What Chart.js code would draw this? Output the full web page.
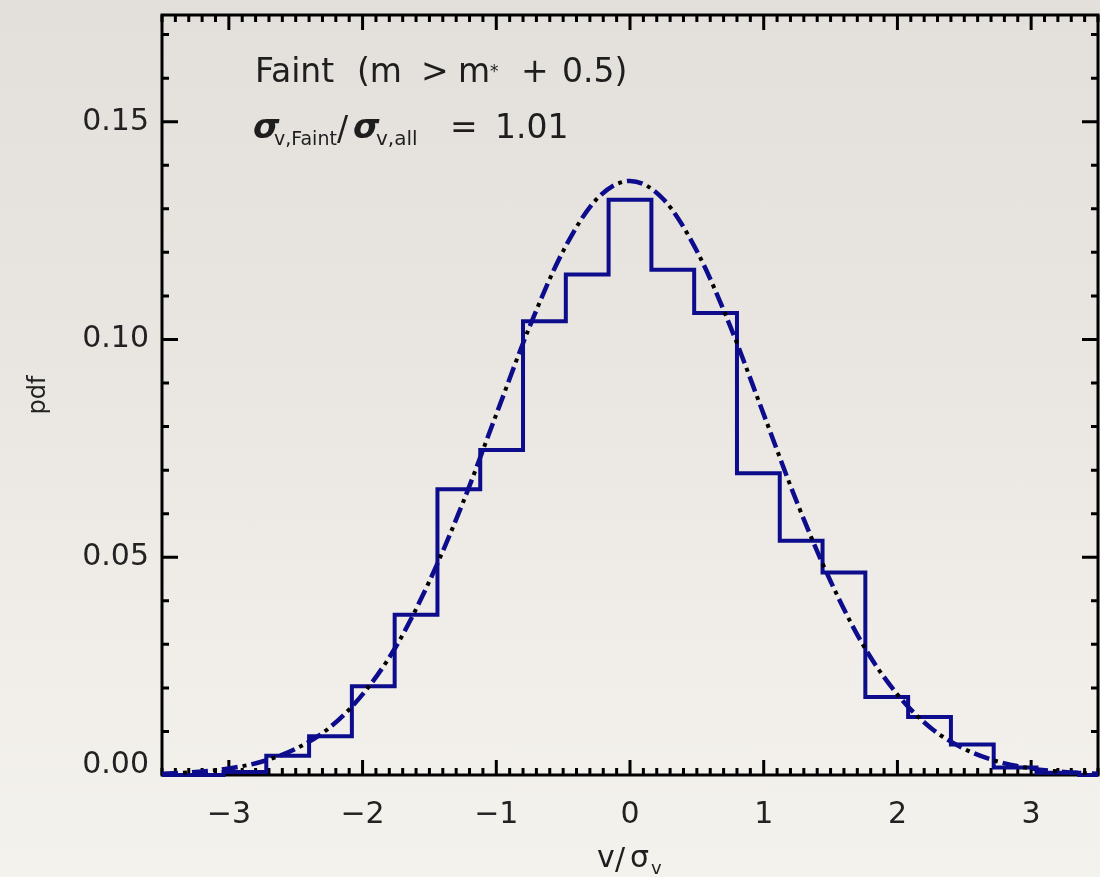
<!DOCTYPE html>
<html><head><meta charset="utf-8">
<script src="https://cdn.jsdelivr.net/npm/chart.js@4.4.1/dist/chart.umd.min.js"></script>
<style>
html,body{margin:0;padding:0;width:1100px;height:877px;overflow:hidden;
background:linear-gradient(180deg,#e3e0db 0%,#e9e6e1 40%,#f1eee9 75%,#f4f2ed 100%);}
canvas{position:absolute;left:0;top:0;}
</style></head><body>
<canvas id="c" width="1100" height="877"></canvas>
<script>
// ---- data ----
const binEdges = [-3.68,-3.36,-3.04,-2.72,-2.40,-2.08,-1.76,-1.44,-1.12,-0.80,-0.48,-0.16,
                  0.16,0.48,0.80,1.12,1.44,1.76,2.08,2.40,2.72,3.04,3.36,3.68];
const pdfValues = [0,0,0.0007,0.0044,0.0089,0.0204,0.0368,0.0656,0.0746,0.1042,0.1149,0.1321,
                   0.1160,0.1061,0.0693,0.0538,0.0465,0.0179,0.0133,0.0070,0.0017,0.0005,0];
const curveX = [-3.5,-3.25,-3,-2.75,-2.5,-2.25,-2,-1.75,-1.5,-1.25,-1,-0.75,-0.5,-0.25,0,
                0.25,0.5,0.75,1,1.25,1.5,1.75,2,2.25,2.5,2.75,3,3.25,3.5];
const curveY = [0.0003,0.0007,0.0015,0.0031,0.0060,0.0108,0.0185,0.0295,0.0445,0.0625,0.0828,0.1030,0.1203,0.1322,0.1364,
                0.1322,0.1203,0.1030,0.0828,0.0625,0.0445,0.0295,0.0185,0.0108,0.0060,0.0031,0.0015,0.0007,0.0003];
const xTickValues = [-3,-2,-1,0,1,2,3];
const yTickValues = [0,0.05,0.10,0.15];

const histPoints = binEdges.map((e,i)=>({x:e, y: pdfValues[Math.min(i,pdfValues.length-1)]}));
const curvePoints = curveX.map((v,i)=>({x:v,y:curveY[i]}));

const NAVY = '#0c0c8c';
const FONT = '"DejaVu Sans", sans-serif';

const framePlugin = {
  id:'frame',
  beforeDatasetsDraw(chart){
    const {ctx, chartArea:a, scales:{x,y}} = chart;
    ctx.save();
    ctx.strokeStyle='#000';
    ctx.lineWidth=3;
    ctx.strokeRect(a.left, a.top, a.right-a.left, a.bottom-a.top);
    ctx.beginPath();
    for (let i=Math.ceil(x.min*10-1e-9); i<=Math.floor(x.max*10+1e-9); i++){
      const px = x.getPixelForValue(i/10);
      const L = (i%10===0) ? 15 : 7;
      ctx.moveTo(px,a.bottom); ctx.lineTo(px,a.bottom-L);
      ctx.moveTo(px,a.top); ctx.lineTo(px,a.top+L);
    }
    for (let i=Math.ceil(y.min*100-1e-9); i<=Math.floor(y.max*100+1e-9); i++){
      const py = y.getPixelForValue(i/100);
      const L = (i%5===0) ? 16 : 7;
      ctx.moveTo(a.left,py); ctx.lineTo(a.left+L,py);
      ctx.moveTo(a.right,py); ctx.lineTo(a.right-L,py);
    }
    ctx.stroke();
    ctx.restore();
  },
  afterDraw(chart){
    const ctx = chart.ctx;
    ctx.save();
    ctx.fillStyle='#1e1e1e';
    ctx.textBaseline='alphabetic';
    ctx.textAlign='left';
    // line 1
    ctx.font = '33px '+FONT;
    ctx.fillText('Faint', 255, 82);
    ctx.fillText('(m', 357, 82);
    ctx.fillText('>', 421, 82);
    ctx.fillText('m', 458, 82);
    ctx.font = '17px '+FONT;
    ctx.fillText('*', 490, 77);
    ctx.font = '33px '+FONT;
    ctx.fillText('+', 521, 82);
    ctx.fillText('0.5)', 562, 82);
    // line 2
    ctx.font = 'italic bold 34px '+FONT;
    ctx.fillText('\u03c3', 253, 138);
    ctx.font = '19px '+FONT;
    ctx.fillText('v,Faint', 274, 145);
    ctx.font = '33px '+FONT;
    ctx.fillText('/', 337, 140);
    ctx.font = 'italic bold 34px '+FONT;
    ctx.fillText('\u03c3', 353, 138);
    ctx.font = '20px '+FONT;
    ctx.fillText('v,all', 376, 145);
    ctx.font = '33px '+FONT;
    ctx.fillText('=', 450, 138);
    ctx.fillText('1.01', 495, 138);
    // x axis title
    ctx.font = '30px '+FONT;
    ctx.fillText('v', 597, 867);
    ctx.fillText('/', 615, 869);
    ctx.fillText('\u03c3', 630, 867);
    ctx.font = '18px '+FONT;
    ctx.fillText('v', 651, 874);
    ctx.restore();
  }
};

new Chart(document.getElementById('c'), {
  type:'line',
  data:{datasets:[
    {label:'fit dots', data:curvePoints, borderColor:'#000', borderWidth:4, borderDash:[4,26], borderDashOffset:9,
     pointRadius:0, cubicInterpolationMode:'monotone', fill:false, order:0, borderCapStyle:'butt'},
    {label:'fit dashes', data:curvePoints, borderColor:NAVY, borderWidth:4.5, borderDash:[16,14],
     pointRadius:0, cubicInterpolationMode:'monotone', fill:false, order:1, borderCapStyle:'butt'},
    {label:'histogram', data:histPoints, borderColor:NAVY, borderWidth:4, stepped:'before',
     pointRadius:0, fill:false, order:2, clip:{left:0,right:0,top:0,bottom:6}}
  ]},
  options:{
    responsive:false, animation:false, devicePixelRatio:1,
    layout:{padding:{top:15,right:2,left:0,bottom:0}},
    plugins:{legend:{display:false}, tooltip:{enabled:false}},
    scales:{
      x:{type:'linear', min:-3.5, max:3.5,
         grid:{display:false, drawTicks:false}, border:{display:false},
         ticks:{font:{family:FONT,size:30}, color:'#222', padding:22, maxRotation:0,
                callback:v=> v<0 ? '\u2212'+Math.abs(v) : String(v)},
         afterBuildTicks(s){ s.ticks = xTickValues.map(v=>({value:v})); },
         afterFit(s){ s.height = 102; s.paddingLeft = 0; s.paddingRight = 0; }},
      y:{type:'linear', min:0, max:0.1745,
         grid:{display:false, drawTicks:false}, border:{display:false},
         ticks:{font:(c)=>({family:FONT,size:30,lineHeight:(c.tick && c.tick.value===0)?0.62:1.2}),
                color:'#222', padding:13,
                callback:v=> v===0 ? ['0.00',''] : Number(v).toFixed(2)},
         title:{display:true, text:'pdf', font:{family:FONT,size:24}, color:'#222', padding:{top:24,bottom:0}},
         afterBuildTicks(s){ s.ticks = yTickValues.map(v=>({value:v})); },
         afterFit(s){ s.width = 162; s.paddingTop = 0; s.paddingBottom = 0; }}
    }
  },
  plugins:[framePlugin]
});
</script>
</body></html>
